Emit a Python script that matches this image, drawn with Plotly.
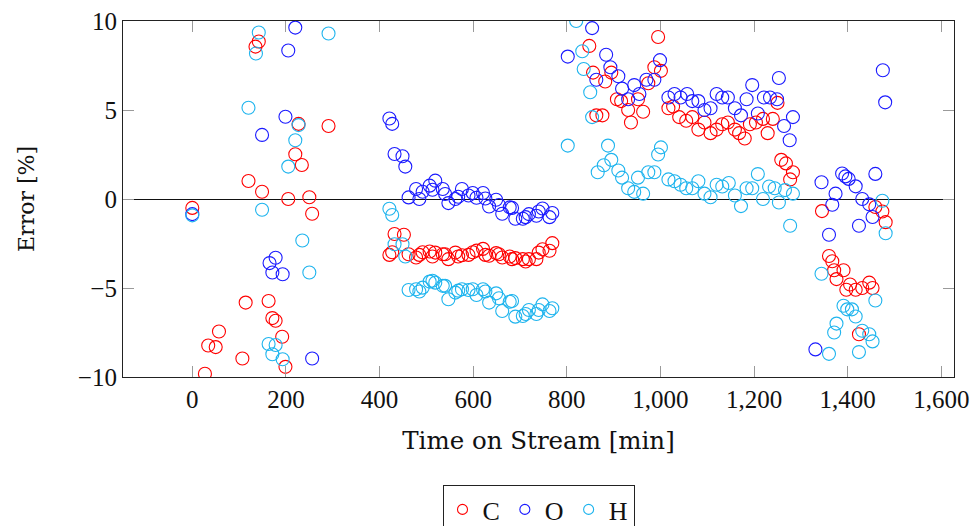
import plotly.graph_objects as go

# Carbon balance error
c_time = [0, 27, 34, 50, 57, 107, 114, 120, 135, 142, 149, 163, 171, 178, 192, 199, 205, 220, 227, 234, 250, 256, 291,
          421, 427, 432, 452, 462, 478, 485, 492, 507, 513, 519, 535, 540, 547, 562, 568, 576, 590, 599, 607, 621, 626,
          634, 649, 655, 662, 678, 683, 690, 706, 712, 719, 735, 740, 748, 763, 769,
          848, 856, 863, 876, 882, 895, 907, 916, 931, 937, 952, 963, 974, 987, 995, 1001,
          1017, 1027, 1040, 1055, 1068, 1081, 1094, 1107, 1120, 1132, 1144, 1159, 1168, 1180, 1191, 1204, 1219, 1229,
          1240, 1250, 1258, 1268, 1277, 1283,
          1345, 1360, 1367, 1371, 1376, 1391, 1397, 1405, 1417, 1424, 1431, 1446, 1453, 1459, 1474, 1481]
c_err = [-0.5, -9.82, -8.23, -8.32, -7.44, -8.96, -5.82, 1.01, 8.56, 8.85, 0.41, -5.73, -6.69, -6.84, -7.74, -9.43, 0.0,
         2.51, 4.22, 1.91, 0.1, -0.83, 4.1,
         -3.14, -2.99, -1.97, -2.01, -3.1, -3.29, -3.14, -2.99, -2.95, -3.23, -3.01, -3.1, -3.1, -3.38, -3.01, -3.23,
         -3.16, -3.14, -2.99, -2.9, -2.8, -3.14, -3.19, -3.04, -3.1, -3.29, -3.23, -3.38, -3.32, -3.38, -3.51, -3.38,
         -3.38, -3.01, -2.82, -2.91, -2.48,
         8.6, 7.1, 4.7, 4.7, 6.6, 7.1, 5.6, 5.5, 5.0, 4.3, 5.6, 4.9, 6.5, 7.4, 9.1, 7.2,
         5.1, 5.2, 4.6, 4.4, 4.6, 3.9, 4.3, 3.7, 3.9, 4.2, 4.3, 3.9, 3.7, 3.4, 4.2, 4.3, 4.5, 3.7,
         4.5, 5.4, 2.2, 2.0, 1.1, 1.5,
         -0.68, -3.2, -3.5, -4.0, -4.5, -4.0, -5.1, -4.8, -5.1, -7.6, -5.0, -4.7, -5.0, -0.45, -0.7, -1.3]

# Oxygen balance error
o_time = [0, 149, 165, 171, 178, 193, 199, 205, 220, 256,
          421, 427, 432, 449, 455, 462, 478, 485, 492, 507, 513, 519, 535, 540, 547, 562, 568, 576, 590, 599, 607,
          621, 626, 634, 649, 655, 662, 678, 683, 690, 706, 712, 719, 735, 740, 748, 763, 769,
          802, 854, 863, 884, 893, 910, 918, 931, 944, 955, 970, 987, 999,
          1017, 1030, 1043, 1057, 1068, 1081, 1094, 1107, 1120, 1132, 1144, 1159, 1172, 1184, 1196, 1208, 1221, 1234,
          1249, 1253, 1264, 1276, 1283,
          1331, 1344, 1360, 1367, 1374, 1388, 1395, 1402, 1417, 1424, 1431, 1446, 1453, 1459, 1475, 1480]
o_err = [-0.85, 3.6, -3.6, -4.13, -3.3, -4.23, 4.62, 8.34, 9.63, -8.96,
         4.52, 4.22, 2.53, 2.4, 1.82, 0.09, 0.56, 0.0, 0.41, 0.75, 0.52, 1.03, 0.56, 0.28, -0.23, 0.0, 0.13, 0.56,
         0.2, 0.34, 0.07, 0.34, 0.03, -0.42, -0.04, -0.34, -0.83, -0.47, -0.5, -1.11, -1.11, -1.02, -0.85, -0.94,
         -0.7, -0.53, -1.02, -0.79,
         8.0, 9.6, 6.7, 8.1, 7.4, 6.9, 6.2, 5.6, 6.4, 5.9, 6.7, 6.7, 7.8,
         5.7, 5.9, 5.7, 5.9, 5.5, 5.5, 5.0, 5.1, 5.9, 5.7, 5.7, 5.1, 4.7, 5.6, 6.4, 4.8, 5.7, 5.7,
         5.6, 6.8, 4.1, 3.3, 4.6,
         -8.45, 0.94, -2.01, -0.32, 0.3, 1.43, 1.27, 1.13, 0.71, -1.5, 0.0, -0.3, -1.01, 1.41, 7.23, 5.43]

# Hydrogen balance error
h_time = [0, 120, 136, 142, 149, 163, 171, 178, 193, 205, 220, 227, 235, 250, 291,
          421, 427, 432, 449, 455, 462, 478, 485, 492, 507, 513, 519, 535, 540, 547, 562, 568, 576, 590, 599, 607,
          621, 626, 634, 649, 655, 662, 678, 683, 690, 706, 712, 719, 735, 740, 748, 763, 769,
          802, 820, 833, 836, 850, 854, 866, 879, 888, 895, 910, 918, 931, 944, 952, 963, 974, 987, 995, 1001,
          1017, 1030, 1043, 1055, 1068, 1081, 1094, 1107, 1120, 1132, 1146, 1159, 1172, 1184, 1196, 1208, 1219, 1232,
          1244, 1253, 1266, 1277, 1283,
          1344, 1360, 1371, 1376, 1391, 1399, 1409, 1417, 1424, 1431, 1446, 1453, 1459, 1474, 1481]
h_err = [-0.92, 5.13, 8.17, 9.35, -0.6, -8.15, -8.72, -8.2, -9.0, 1.82, 3.3, 4.15, -2.33, -4.13, 9.3,
         -0.55, -0.9, -2.54, -2.54, -3.23, -5.11, -5.07, -5.2, -4.98, -4.64, -4.59, -4.7, -4.88, -4.88, -5.63, -5.26,
         -5.15, -5.07, -5.11, -5.07, -5.39, -5.07, -5.2, -5.82, -5.3, -5.58, -6.29, -5.77, -5.73, -6.61, -6.57, -6.46,
         -6.24, -6.46, -6.24, -5.92, -6.29, -6.14,
         3.0, 10.0, 8.3, 7.3, 6.0, 4.6, 1.5, 1.9, 3.0, 2.2, 1.6, 1.2, 0.6, 0.4, 1.2, 0.3, 1.5, 1.5, 2.5, 2.9,
         1.1, 1.0, 0.8, 0.6, 0.6, 1.0, 0.3, 0.1, 0.8, 0.7, 0.9, 0.2, -0.4, 0.6, 0.6, 1.4, 0.0, 0.7,
         0.6, -0.2, 0.5, -1.5, 0.3,
         -4.2, -8.7, -7.5, -7.0, -6.0, -6.2, -6.2, -6.6, -8.6, -7.4, -7.6, -8.0, -5.7, -0.1, -1.92]

x_ticks = [0, 200, 400, 600, 800, 1000, 1200, 1400, 1600]
y_ticks = [-10, -5, 0, 5, 10]

series = [
    ("C", c_time, c_err, "#ff0000"),
    ("O", o_time, o_err, "#1a1aff"),
    ("H", h_time, h_err, "#1eb4ee"),
]

tick_font = dict(family="Liberation Serif", size=25, color="#111111")

fig = go.Figure()
for name, t, e, col in series:
    fig.add_trace(go.Scatter(
        x=t, y=e, mode="markers", name=name, legendgroup=name, showlegend=False,
        marker=dict(symbol="circle-open", size=13, color=col, line=dict(width=1.1, color=col)),
    ))
# legend entries drawn with smaller circles
for name, t, e, col in series:
    fig.add_trace(go.Scatter(
        x=[None], y=[None], mode="markers", name=name, legendgroup=name, showlegend=True,
        marker=dict(symbol="circle-open", size=10, color=col, line=dict(width=1.1, color=col)),
    ))

axis_common = dict(
    showline=True, linecolor="#222222", linewidth=1.2, mirror="ticks",
    ticks="inside", ticklen=11, tickcolor="#9a9a9a", tickwidth=1,
    showgrid=False, tickfont=tick_font, automargin=False,
)

fig.update_layout(
    width=977, height=526,
    margin=dict(l=123, r=23, t=21, b=149),
    paper_bgcolor="white", plot_bgcolor="white",
    font=dict(family="Liberation Serif", color="#111111"),
    xaxis=dict(
        range=[-148, 1627], tickvals=x_ticks, tickformat=",d", zeroline=False,
        title=dict(text="Time on Stream [min]",
                   font=dict(family="DejaVu Serif", size=24.5, color="#111111"), standoff=19),
        **axis_common,
    ),
    yaxis=dict(
        range=[-10, 10], tickvals=y_ticks, zeroline=True, zerolinecolor="#111111", zerolinewidth=1.3,
        title=dict(text="Error [%]",
                   font=dict(family="DejaVu Serif", size=22, color="#111111"), standoff=37),
        **axis_common,
    ),
    legend=dict(
        orientation="h", x=0.5, xanchor="center", xref="paper",
        y=1 - 485 / 526, yanchor="top", yref="container",
        bordercolor="#222222", borderwidth=1, bgcolor="white",
        font=dict(family="Liberation Serif", size=26, color="#111111"),
        itemwidth=30, tracegroupgap=0,
    ),
    showlegend=True,
)

fig.write_html("out.html")
